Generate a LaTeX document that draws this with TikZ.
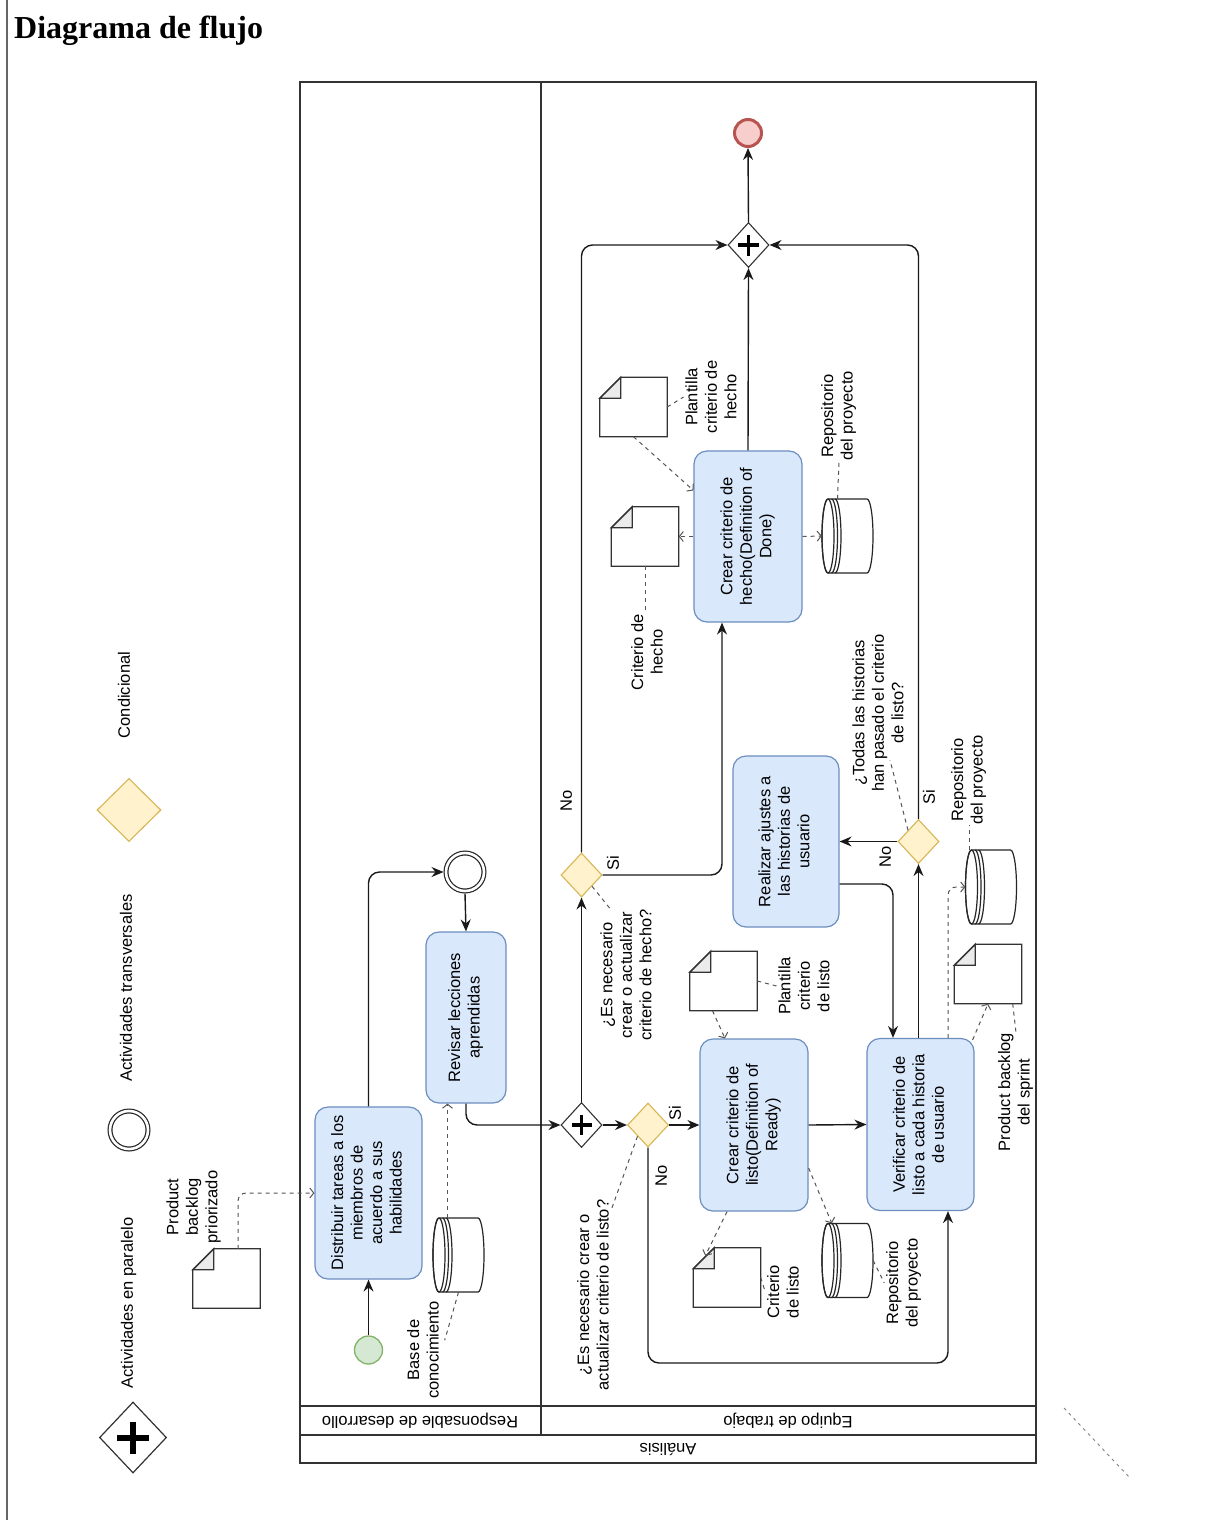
\documentclass[tikz,border=0pt]{standalone}
\usepackage{fontspec}
\setmainfont{Liberation Sans}
\newfontfamily\titlefont{Liberation Serif}
\usetikzlibrary{shapes.geometric,arrows.meta,calc}

\definecolor{taskfill}{HTML}{DAE8FC}
\definecolor{taskline}{HTML}{6C8EBF}
\definecolor{condfill}{HTML}{FFF2CC}
\definecolor{condline}{HTML}{D6B656}
\definecolor{startfill}{HTML}{D5E8D4}
\definecolor{startline}{HTML}{82B366}
\definecolor{endfill}{HTML}{F8CECC}
\definecolor{endline}{HTML}{B85450}
\definecolor{poolline}{HTML}{333333}
\definecolor{assocline}{HTML}{555555}
\definecolor{foldgray}{HTML}{EBEBEB}

% text set bottom-to-top, several centred lines
\newcommand\rt[1]{\rotatebox{90}{\begin{tabular}{@{}c@{}}#1\end{tabular}}}

\tikzset{
  task/.style={rectangle, rounded corners=13pt, draw=taskline, fill=taskfill, line width=1.2pt, inner sep=0pt},
  gate/.style={diamond, draw=black!80, fill=white, line width=1.1pt, minimum width=41pt, minimum height=45pt, inner sep=0pt},
  cond/.style={diamond, draw=condline, fill=condfill, line width=1.1pt, minimum width=41pt, minimum height=44pt, inner sep=0pt},
  flow/.style={draw=black!90, line width=1.4pt, rounded corners=11pt, -{Stealth[length=12pt,width=10pt,inset=4pt]}},
  assoc/.style={draw=assocline, line width=1pt, dash pattern=on 4pt off 4pt, rounded corners=8pt, -{Straight Barb[length=4pt,width=10pt]}},
  note/.style={draw=assocline, line width=1pt, dash pattern=on 4pt off 4pt},
  lbl/.style={inner sep=0pt},
  docbox/.style={rectangle, minimum width=67pt, minimum height=59pt, inner sep=0pt},
  docline/.style={draw=black!80, line width=1.3pt},
  storebox/.style={rectangle, minimum width=51pt, minimum height=74pt, inner sep=0pt},
  storeline/.style={draw=black!85, line width=1.2pt},
  lane/.style={rotate=180, inner sep=0pt},
}

% data object with folded corner
\newcommand\docshape[3]{%
  \node[docbox] (#1) at (#2,#3) {};
  \filldraw[docline, fill=white] ([xshift=21pt]#1.north west) -- (#1.north east) -- (#1.south east)
     -- (#1.south west) -- ([yshift=-21pt]#1.north west) -- cycle;
  \filldraw[docline, fill=foldgray] ([yshift=-21pt]#1.north west) -- ([shift={(21pt,-21pt)}]#1.north west)
     -- ([xshift=21pt]#1.north west) -- cycle;}

% data store lying on its side
\newcommand\storeshape[3]{%
  \node[storebox] (#1) at (#2,#3) {};
  \begin{scope}[shift={(#2,#3)}]
    \filldraw[storeline, fill=white] (-19.5,-37) -- (19.5,-37)
      arc[start angle=-90, end angle=90, x radius=6, y radius=37]
      -- (-19.5,37) arc[start angle=90, end angle=270, x radius=6, y radius=37] -- cycle;
    \draw[storeline] (-19.5,0) ellipse[x radius=6, y radius=37];
    \draw[storeline] (-16,-37) arc[start angle=-90, end angle=90, x radius=6, y radius=37];
    \draw[storeline] (-12.5,-37) arc[start angle=-90, end angle=90, x radius=6, y radius=37];
  \end{scope}}

% plus mark of a parallel gateway
\newcommand\gplus[3]{%
  \draw[line width=#3, draw=black] ([xshift=-#2]#1.center) -- ([xshift=#2]#1.center)
    ([yshift=-#2]#1.center) -- ([yshift=#2]#1.center);}

\begin{document}
\begin{tikzpicture}[x=1pt, y=-1pt, font=\fontsize{16.5}{19.5}\selectfont]
\fill[white] (0,0) rectangle (1222,1520);
\useasboundingbox (0,0) rectangle (1222,1520);

% page frame and heading
\draw[line width=1.5pt, draw=black!60] (7,0) -- (7,1520);
\node[anchor=base west, inner sep=0pt, font=\titlefont\bfseries\fontsize{32}{36}\selectfont] (title) at (14,38) {Diagrama de flujo};

% ---------- legend ----------
\node[gate, minimum width=67pt, minimum height=71pt, line width=1.2pt] (lgpar) at (133,1437.5) {};
\gplus{lgpar}{16pt}{6pt}
\node[lbl] (lgparlbl) at (129,1303) {\rt{Actividades en paralelo}};
\node[circle, draw=black!85, line width=1.2pt, double, double distance=2.6pt, minimum size=38pt, inner sep=0pt] (lgtrans) at (129,1130) {};
\node[lbl] (lgtranslbl) at (128,988) {\rt{Actividades transversales}};
\node[cond, minimum width=64pt, minimum height=63pt] (lgcond) at (129,810) {};
\node[lbl] (lgcondlbl) at (126,695) {\rt{Condicional}};

% ---------- pool and lanes ----------
\draw[draw=poolline, line width=1.6pt] (300,82) rectangle (1036,1463);
\draw[draw=poolline, line width=1.6pt] (300,1406) -- (1036,1406) (300,1435) -- (1036,1435) (541,82) -- (541,1435);
\node[lane] (lanedev) at (420,1420.5) {Responsable de desarrollo};
\node[lane] (laneteam) at (788,1420.5) {Equipo de trabajo};
\node[lane] (poolname) at (668,1449) {Análisis};

% ---------- input backlog ----------
\docshape{prio}{226.5}{1278.5}
\node[lbl] (priolbl) at (194,1207) {\rt{Product\\backlog\\priorizado}};

% ---------- lane: responsable de desarrollo ----------
\node[circle, draw=startline, fill=startfill, line width=1.3pt, minimum size=28pt, inner sep=0pt] (start) at (368.5,1350) {};
\node[task, minimum width=107pt, minimum height=172pt] (distrib) at (368.5,1193) {\rt{Distribuir tareas a los\\miembros de\\acuerdo a sus\\habilidades}};
\node[circle, draw=black!85, fill=white, line width=1.2pt, double, double distance=2.6pt, minimum size=38pt, inner sep=0pt, outer sep=2.5pt] (trans) at (465,872) {};
\node[task, minimum width=80pt, minimum height=171pt] (revisar) at (466,1017.5) {\rt{Revisar lecciones\\aprendidas}};
\storeshape{base}{458.5}{1255}
\node[lbl] (baselbl) at (425,1350) {\rt{Base de\\conocimiento}};

% ---------- lane: equipo de trabajo ----------
\node[gate] (pg1) at (581.5,1125) {};
\gplus{pg1}{10pt}{3.6pt}
\node[cond] (cd1) at (648,1125) {};
\node[lbl] (cdlbl1) at (595,1295) {\rt{¿Es necesario crear o\\actualizar criterio de listo?}};
\node[task, minimum width=108pt, minimum height=172pt] (listo) at (754,1125) {\rt{Crear criterio de\\listo(Definition of\\Ready)}};
\node[task, minimum width=107pt, minimum height=172pt] (verif) at (920.5,1124.5) {\rt{Verificar criterio de\\listo a cada historia\\de usuario}};
\node[task, minimum width=106pt, minimum height=171pt] (ajustes) at (786,841.5) {\rt{Realizar ajustes a\\las historias de\\usuario}};
\node[cond] (cd3) at (918.5,841.5) {};
\node[lbl] (cdlbl3) at (880,713) {\rt{¿Todas las historias\\han pasado el criterio\\de listo?}};
\node[cond] (cd2) at (581.5,875) {};
\node[lbl] (cdlbl2) at (628,975) {\rt{¿Es necesario\\crear o actualizar\\criterio de hecho?}};
\node[task, minimum width=108pt, minimum height=171pt] (hecho) at (748,536.5) {\rt{Crear criterio de\\hecho(Definition of\\Done)}};
\node[gate] (pg2) at (748.5,245) {};
\gplus{pg2}{10.5pt}{3.8pt}
\node[circle, draw=endline, fill=endfill, line width=3pt, minimum size=27pt, inner sep=0pt] (endev) at (748,133) {};

% artefacts
\docshape{plantl}{723.5}{981}
\node[lbl] (plantllbl) at (806,986) {\rt{Plantilla\\criterio\\de listo}};
\docshape{critl}{727}{1277.5}
\node[lbl] (critllbl) at (785,1292) {\rt{Criterio\\de listo}};
\storeshape{rep1}{847.5}{1260.5}
\node[lbl] (rep1lbl) at (904,1283) {\rt{Repositorio\\del proyecto}};
\docshape{sprint}{988}{974}
\node[lbl] (sprintlbl) at (1016,1092) {\rt{Product backlog\\del sprint}};
\storeshape{rep2}{991}{887}
\node[lbl] (rep2lbl) at (969,780) {\rt{Repositorio\\del proyecto}};
\docshape{planth}{633.5}{407}
\node[lbl] (planthlbl) at (713,397) {\rt{Plantilla\\criterio de\\hecho}};
\docshape{crith}{645}{536.5}
\node[lbl] (crithlbl) at (649,652) {\rt{Criterio de\\hecho}};
\storeshape{rep3}{847.5}{536}
\node[lbl] (rep3lbl) at (839,416) {\rt{Repositorio\\del proyecto}};

% branch labels
\node[lbl] (si1) at (677,1113) {\rt{Si}};
\node[lbl] (no1) at (663,1176) {\rt{No}};
\node[lbl] (si2) at (615,863) {\rt{Si}};
\node[lbl] (no2) at (568,801) {\rt{No}};
\node[lbl] (no3) at (887,857) {\rt{No}};
\node[lbl] (si3) at (931,797) {\rt{Si}};

% ---------- helper points on task borders ----------
\coordinate (b1) at ([xshift=-11pt]base.north);
\coordinate (nob) at (648,1363);
\coordinate (v1) at ([xshift=27.5pt]verif.south);
\coordinate (v2) at ([xshift=-27.5pt]verif.north);
\coordinate (v3) at ([xshift=27.5pt]verif.north);
\coordinate (a1) at ([yshift=-42.5pt]ajustes.east);
\coordinate (h1) at ([xshift=-26pt]hecho.south);
\coordinate (l1) at ([xshift=-27pt]listo.south);

% ---------- sequence flows ----------
\draw[flow] (start) -- (distrib);
\draw[flow] (distrib.north) |- (trans.west);
\draw[flow] (trans.south) -- (revisar.north);
\draw[flow] (revisar.south) |- (pg1.west);
\draw[flow] (pg1.east) -- (cd1.west);
\draw[flow] (pg1.north) -- (cd2.south);
\draw[flow] (cd1.east) -- (listo.west);
\draw[flow] (cd1.south) -- (nob) -| (v1);
\draw[flow] (listo.east) -- (verif.west);
\draw[flow] (cd3.south |- verif.north) -- (cd3.south);
\draw[flow] (cd3.west) -- (ajustes.east);
\draw[flow] (a1) -| (v2);
\draw[flow] (cd3.north) |- (pg2.east);
\draw[flow] (cd2.east) -| (h1);
\draw[flow] (cd2.north) |- (pg2.west);
\draw[flow] (hecho.north) -- (pg2.south);
\draw[flow] (pg2.north) -- (endev.south);

% ---------- associations ----------
\draw[assoc] ([xshift=11.5pt]prio.north) |- (distrib.west);
\draw[assoc] (b1) -- (b1 |- revisar.south);
\draw[note] (base.south) -- ([yshift=-39pt]baselbl.north east);
\draw[note] (cd1.south west) -- ([xshift=-4pt,yshift=-12pt]cdlbl1.north east);
\draw[assoc] ([xshift=-11pt]plantl.south) -- ([xshift=-29pt]listo.north);
\draw[note] (plantl.east) -- (plantllbl.west);
\draw[assoc] (l1) -- ([shift={(12pt,-8pt)}]critl.north west);
\draw[note] (critl.east) -- (critllbl.west);
\draw[assoc] ([yshift=-43pt]listo.east) -- ([xshift=10pt]rep1.north west);
\draw[note] (rep1.east) -- (rep1lbl.west);
\draw[assoc] (v3) |- (rep2.west);
\draw[note] ([xshift=-22pt]rep2.north) -- ([xshift=-22pt]rep2.north |- rep2lbl.south);
\draw[assoc] ([xshift=-2pt,yshift=-2pt]verif.north east) -- (sprint.south);
\draw[note] ([xshift=-9pt]sprint.south east) -- (sprintlbl.north);
\draw[note] (cd2.south east) -- ([xshift=12pt]cdlbl2.north west);
\draw[note] (cd3.north west) -- ([xshift=10pt,yshift=-47pt]cdlbl3.center);
\draw[assoc] (planth.south) -- ([yshift=-40pt]hecho.north west);
\draw[note] (planth.east) -- (planthlbl.west);
\draw[assoc] (hecho.west) -- (crith.east);
\draw[note] (crith.south) -- (crith.south |- crithlbl.north);
\draw[assoc] (hecho.east) -- (rep3.west);
\draw[note] ([xshift=-10pt]rep3.north) -- (rep3lbl.south);

% loose dotted stroke beside the pool
\coordinate (s1) at (1064,1408);
\coordinate (s2) at (1130,1478);
\draw[note, draw=gray, line width=0.9pt, dash pattern=on 3pt off 4pt] (s1) -- (s2);
\end{tikzpicture}
\end{document}
